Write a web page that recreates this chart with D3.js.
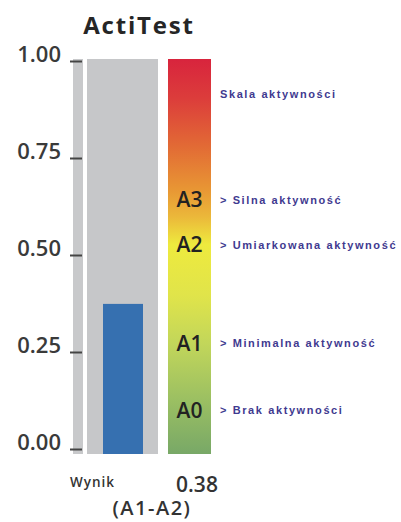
<!DOCTYPE html>
<html>
<head>
<meta charset="utf-8">
<script src="https://cdn.jsdelivr.net/npm/d3@7"></script>
<style>
  html, body { margin: 0; padding: 0; background: #fff; }
  svg { display: block; }
</style>
</head>
<body>
<svg id="chart" width="401" height="522"></svg>
<script>
// ---- data ----
const title = "ActiTest";
const tickValues = [0, 0.25, 0.5, 0.75, 1];
const tickLabels = ["0.00", "0.25", "0.50", "0.75", "1.00"];
const scoreName = "Wynik";
const scoreValue = 0.38;
const scoreRange = "(A1-A2)";
const levelNames = ["A0", "A1", "A2", "A3"];
const levelValues = [0.111, 0.281, 0.530, 0.644];
const levelDescriptions = ["> Brak aktywności", "> Minimalna aktywność", "> Umiarkowana aktywność", "> Silna aktywność"];
const scaleTitle = "Skala aktywności";
const scaleTitleValue = 0.911;
const gradientOffsets = [0, 0.10, 0.22, 0.33, 0.40, 0.47, 0.60, 0.72, 0.86, 1];
const gradientColors = ["#d8243d", "#dc3d3b", "#e26a35", "#e89634", "#ebb83a", "#eeea3e", "#e0e44a", "#c2d65a", "#9cc062", "#78a867"];

// ---- layout ----
const svg = d3.select("#chart");
const barY = d3.scaleLinear().domain([0, 1]).range([454, 59]);
const axisY = d3.scaleLinear().domain([0, 1]).range([449, 61]);

const font = "'Open Sans', 'Noto Sans', sans-serif";

// title
svg.append("text")
  .attr("x", 139).attr("y", 34)
  .attr("text-anchor", "middle")
  .attr("font-family", font).attr("font-weight", 700)
  .attr("font-size", 24).attr("letter-spacing", 1.8)
  .attr("fill", "#262626")
  .text(title);

// axis strip
svg.append("rect")
  .attr("x", 73).attr("width", 10)
  .attr("y", barY(1)).attr("height", barY(0) - barY(1))
  .attr("fill", "#c8c9cb");

// background (max) bar
svg.append("rect")
  .attr("x", 87).attr("width", 71)
  .attr("y", barY(1)).attr("height", barY(0) - barY(1))
  .attr("fill", "#c6c7c9");

// value bar
svg.append("rect")
  .attr("x", 103).attr("width", 40)
  .attr("y", barY(scoreValue)).attr("height", barY(0) - barY(scoreValue))
  .attr("fill", "#3670b0");

// gradient scale bar
const defs = svg.append("defs");
const grad = defs.append("linearGradient")
  .attr("id", "actGrad").attr("x1", 0).attr("y1", 0).attr("x2", 0).attr("y2", 1);
grad.selectAll("stop").data(gradientOffsets).join("stop")
  .attr("offset", d => d)
  .attr("stop-color", (d, i) => gradientColors[i]);

svg.append("rect")
  .attr("x", 168).attr("width", 43)
  .attr("y", barY(1)).attr("height", barY(0) - barY(1))
  .attr("fill", "url(#actGrad)");

// axis
const axis = d3.axisLeft(axisY)
  .tickValues(tickValues)
  .tickFormat((d, i) => tickLabels[i])
  .tickSize(12)
  .tickPadding(9);
const gAxis = svg.append("g").attr("transform", "translate(82,0)").call(axis);
gAxis.select(".domain").remove();
gAxis.selectAll(".tick line").attr("stroke", "#444").attr("stroke-width", 2);
gAxis.selectAll(".tick text")
  .attr("dy", "0")
  .attr("font-family", font).attr("font-weight", 600)
  .attr("font-size", 22).attr("fill", "#3a3a3a");

// level labels
svg.append("g").selectAll("text").data(levelNames).join("text")
  .attr("x", 189.5)
  .attr("y", (d, i) => barY(levelValues[i]))
  .attr("dy", "0.36em")
  .attr("text-anchor", "middle")
  .attr("font-family", font).attr("font-weight", 600)
  .attr("font-size", 21).attr("fill", "#222")
  .text(d => d);

// descriptions
const descStyle = sel => sel
  .attr("font-family", "Arial, 'Liberation Sans', sans-serif")
  .attr("font-weight", 700)
  .attr("font-size", 11)
  .attr("letter-spacing", 1.6)
  .attr("fill", "#3f3a90");

svg.append("g").selectAll("text").data(levelDescriptions).join("text")
  .attr("x", 220)
  .attr("y", (d, i) => barY(levelValues[i]))
  .attr("dy", "0.36em")
  .call(descStyle)
  .text(d => d);

svg.append("text")
  .attr("x", 220).attr("y", barY(scaleTitleValue)).attr("dy", "0.36em")
  .call(descStyle)
  .text(scaleTitle);

// bottom labels
svg.append("text")
  .attr("x", 70).attr("y", 487)
  .attr("font-family", font).attr("font-weight", 600).attr("font-size", 13.5)
  .attr("letter-spacing", 1.0)
  .attr("fill", "#333")
  .text(scoreName);

svg.append("text")
  .attr("x", 197).attr("y", 492)
  .attr("text-anchor", "middle")
  .attr("font-family", font).attr("font-weight", 600)
  .attr("font-size", 21).attr("fill", "#333")
  .text(d3.format(".2f")(scoreValue));

svg.append("text")
  .attr("x", 152).attr("y", 515)
  .attr("text-anchor", "middle")
  .attr("font-family", font).attr("font-weight", 600)
  .attr("font-size", 20).attr("letter-spacing", 1.5)
  .attr("fill", "#333")
  .text(scoreRange);
</script>
</body>
</html>
